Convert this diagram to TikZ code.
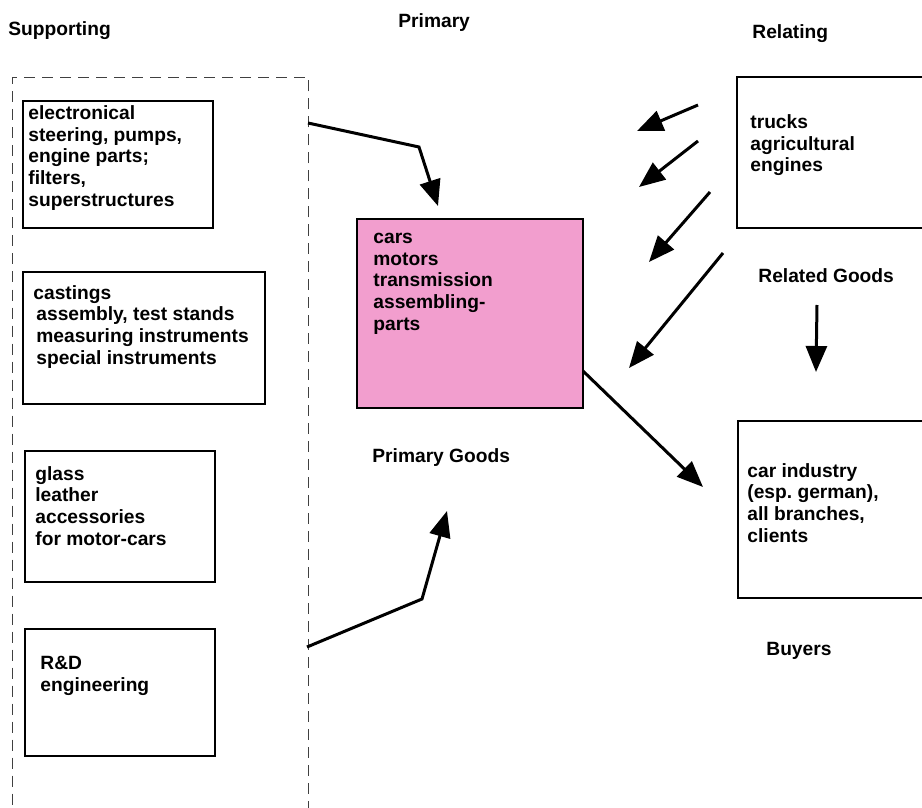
\documentclass[tikz,border=0pt]{standalone}
\usepackage{fontspec}
\setmainfont{Liberation Sans}
\usetikzlibrary{arrows.meta}
\definecolor{goodspink}{RGB}{242,158,206}
\tikzset{
  box/.style={draw,line width=0.75pt,anchor=north west,inner sep=0pt,outer sep=0pt},
  txt/.style={anchor=base west,align=left,inner sep=0pt,font=\bfseries\fontsize{9.6}{10.8}\selectfont},
  arr/.style={line width=1.5pt,-{Triangle[length=13pt,width=10.5pt]}},
  frame/.style={draw=black!75,line width=0.5pt,dash pattern=on 5.5pt off 3.5pt,anchor=north west,inner sep=0pt}
}
\begin{document}
\begin{tikzpicture}[x=0.5pt,y=-0.5pt]
    \useasboundingbox (0,0) rectangle (922,808);
    \clip (0,0) rectangle (922,808);
    % headings
    \node[txt] (hsup) at (8,36) {Supporting};
    \node[txt] (hpri) at (398,28) {Primary};
    \node[txt] (hrel) at (752,39) {Relating};
    % supporting (text nodes sit on the baseline of their last line)
    \node[frame,minimum width=148pt,minimum height=390pt] (supp) at (12,77) {};
    \node[box,minimum width=95pt,minimum height=63.5pt] (elec) at (23,101) {};
    \node[txt] (elect) at (28,206) {electronical\\steering, pumps,\\engine parts;\\filters,\\superstructures};
    \node[box,minimum width=121pt,minimum height=66pt] (cast) at (23,272) {};
    \node[txt] (castt) at (33,364) {castings\\\hspace{1.5pt}assembly, test stands\\\hspace{1.5pt}measuring instruments\\\hspace{1.5pt}special instruments};
    \node[box,minimum width=95pt,minimum height=65.5pt] (glass) at (25,451) {};
    \node[txt] (glasst) at (35,545) {glass\\leather\\accessories\\for motor-cars};
    \node[box,minimum width=95pt,minimum height=63.5pt] (rd) at (25,629) {};
    \node[txt] (rdt) at (40,691) {R\&D\\engineering};
    % primary
    \node[box,fill=goodspink,minimum width=113pt,minimum height=94.5pt] (prim) at (357,219) {};
    \node[txt] (primt) at (373,330) {cars\\motors\\transmission\\assembling-\\parts};
    \node[txt] (primg) at (372,462) {Primary Goods};
    % relating and buyers
    \node[box,minimum width=100pt,minimum height=75.5pt] (rel) at (737,77) {};
    \node[txt] (relt) at (750,172) {trucks\\agricultural\\engines};
    \node[txt] (relg) at (758,282) {Related Goods};
    \node[box,minimum width=100pt,minimum height=88.5pt] (buy) at (738,421) {};
    \node[txt] (buyt) at (747,542) {car industry\\(esp.\ german),\\all branches,\\clients};
    \node[txt] (buyg) at (766,655) {Buyers};
    % arrows
    \coordinate (s1) at (308,123);
    \coordinate (s1k) at (419,147);
    \coordinate (s1e) at (438,206);
    \coordinate (s2) at (307,647);
    \coordinate (s2k) at (422,599);
    \coordinate (s2e) at (447,511);
    \draw[arr] (s1) -- (s1k) -- (s1e);
    \draw[arr] (s2) -- (s2k) -- (s2e);
    \coordinate (r1) at (698,105);
    \coordinate (r1e) at (637,131);
    \coordinate (r2) at (698,141);
    \coordinate (r2e) at (639,187);
    \coordinate (r3) at (710,192);
    \coordinate (r3e) at (649,262);
    \coordinate (r4) at (723,253);
    \coordinate (r4e) at (629,368);
    \draw[arr] (r1) -- (r1e);
    \draw[arr] (r2) -- (r2e);
    \draw[arr] (r3) -- (r3e);
    \draw[arr] (r4) -- (r4e);
    \coordinate (g1) at (817,305);
    \coordinate (g1e) at (816,372);
    \draw[arr] (g1) -- (g1e);
    \coordinate (p1) at (583,371);
    \coordinate (p1e) at (703,487);
    \draw[arr] (p1) -- (p1e);
\end{tikzpicture}
\end{document}
